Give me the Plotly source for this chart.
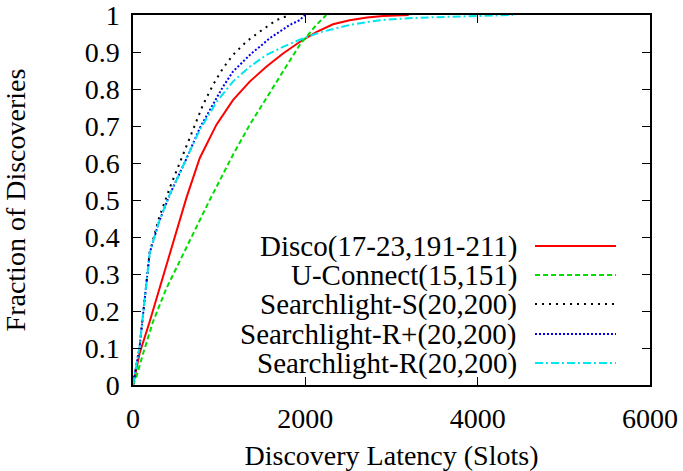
import plotly.graph_objects as go

# ---- data ----
disco_x = [0, 77, 193, 387, 619, 774, 967, 1160, 1354, 1547, 1741, 1934, 2127, 2321, 2514, 2716, 2900, 3200]
disco_y = [0, 0.086, 0.171, 0.322, 0.505, 0.613, 0.703, 0.770, 0.820, 0.860, 0.896, 0.927, 0.954, 0.975, 0.986, 0.993, 0.997, 1.0]

uconn_x = [0, 39, 116, 232, 387, 464, 658, 890, 1160, 1354, 1547, 1741, 1934, 2127, 2243]
uconn_y = [0, 0.022, 0.084, 0.171, 0.261, 0.297, 0.392, 0.50, 0.622, 0.703, 0.775, 0.847, 0.919, 0.973, 1.0]

sls_x = [0, 39, 77, 193, 300, 425, 580, 696, 812, 928, 1044, 1160, 1315, 1470, 1663, 1818]
sls_y = [0, 0.05, 0.104, 0.358, 0.45, 0.532, 0.622, 0.694, 0.757, 0.811, 0.856, 0.892, 0.928, 0.955, 0.986, 1.0]

slrp_x = [0, 39, 77, 193, 300, 425, 619, 774, 909, 1044, 1160, 1277, 1373, 1470, 1586, 1702, 1818, 1934, 1996]
slrp_y = [0, 0.05, 0.104, 0.356, 0.44, 0.514, 0.611, 0.694, 0.75, 0.806, 0.847, 0.874, 0.896, 0.914, 0.937, 0.955, 0.973, 0.986, 1.0]

slr_x = [0, 39, 77, 193, 300, 425, 619, 774, 967, 1160, 1354, 1547, 1741, 1934, 2166, 2514, 2866, 3250, 3644, 4000, 4410]
slr_y = [0, 0.05, 0.104, 0.356, 0.44, 0.514, 0.611, 0.689, 0.764, 0.820, 0.860, 0.892, 0.914, 0.933, 0.953, 0.973, 0.986, 0.992, 0.995, 0.998, 1.0]

names = ["Disco(17-23,191-211)", "U-Connect(15,151)", "Searchlight-S(20,200)",
         "Searchlight-R+(20,200)", "Searchlight-R(20,200)"]
colors = ["#ff0000", "#00dd00", "#000000", "#0000ee", "#00e5ee"]
dashes = ["solid", "5px,3px", "2px,5px", "2px,2px", "8px,3px,2px,3px"]
xs = [disco_x, uconn_x, sls_x, slrp_x, slr_x]
ys = [disco_y, uconn_y, sls_y, slrp_y, slr_y]

y_ticks = [0, 0.1, 0.2, 0.3, 0.4, 0.5, 0.6, 0.7, 0.8, 0.9, 1]
y_labels = ["0", "0.1", "0.2", "0.3", "0.4", "0.5", "0.6", "0.7", "0.8", "0.9", "1"]
x_ticks = [0, 2000, 4000, 6000]

FONT = "Liberation Serif, Times New Roman, serif"
FS = 28

fig = go.Figure()
for x, y, n, c, d in zip(xs, ys, names, colors, dashes):
    fig.add_trace(go.Scatter(x=x, y=y, mode="lines", name=n, showlegend=False,
                             line=dict(color=c, width=2, dash=d)))

# manual gnuplot-style legend: right-aligned text, sample line on the right
W, H = 517.0, 370.0
leg_rows = [246, 275, 304, 334, 363]
for i, (n, c, d) in enumerate(zip(names, colors, dashes)):
    yp = (385 - leg_rows[i]) / H
    fig.add_annotation(x=(518 - 133) / W, y=yp, xref="paper", yref="paper",
                       text=n, showarrow=False, xanchor="right", yanchor="middle",
                       borderpad=0,
                       font=dict(family=FONT, size=29, color="black"))
    fig.add_shape(type="line", xref="paper", yref="paper",
                  x0=(535 - 133) / W, x1=(616 - 133) / W, y0=yp, y1=yp,
                  line=dict(color=c, width=2, dash=d))

axis_common = dict(showline=True, linecolor="black", linewidth=1.5, mirror="allticks",
                   ticks="inside", ticklen=8, tickcolor="black", tickwidth=1.2,
                   showgrid=False, zeroline=False, ticklabeloverflow="allow",
                   automargin=False,
                   tickfont=dict(family=FONT, size=FS, color="black"))

fig.update_xaxes(range=[0, 6000], tickvals=x_ticks, ticktext=[str(v) for v in x_ticks],
                 ticklabelstandoff=8,
                 title=dict(text="Discovery Latency (Slots)", font=dict(family=FONT, size=FS, color="black"),
                            standoff=12),
                 **axis_common)
fig.update_yaxes(range=[0, 1], tickvals=y_ticks, ticktext=y_labels,
                 ticklabelstandoff=6,
                 title=dict(text="Fraction of Discoveries", font=dict(family=FONT, size=FS, color="black"),
                            standoff=54),
                 **axis_common)

fig.update_layout(width=683, height=471, margin=dict(l=133, r=33, t=15, b=86, autoexpand=False),
                  paper_bgcolor="white", plot_bgcolor="white",
                  font=dict(family=FONT, size=FS, color="black"))

fig.write_html("out.html")
